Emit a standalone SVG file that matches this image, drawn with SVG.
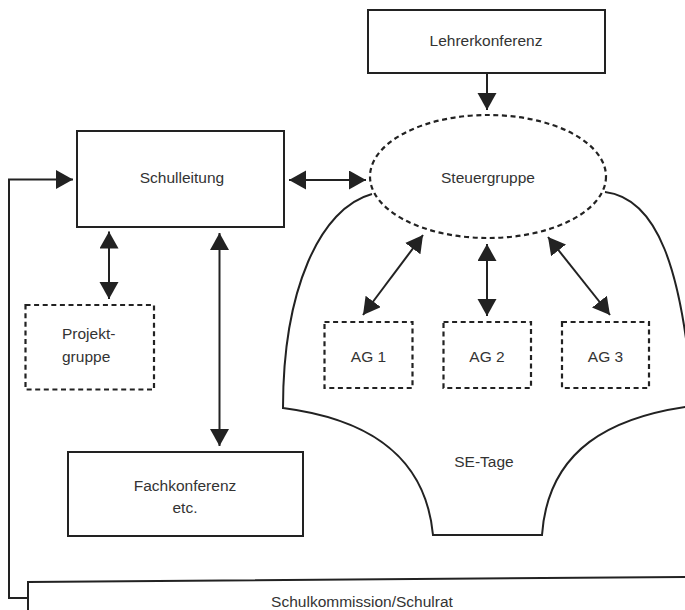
<svg xmlns="http://www.w3.org/2000/svg" width="685" height="610" viewBox="0 0 685 610">
<style>
  text { font-family: "Liberation Sans", Arial, sans-serif; font-size: 15.5px; fill: #333; text-anchor: middle; }
  .box { fill: none; stroke: #222; stroke-width: 2; }
  .dash { fill: none; stroke: #222; stroke-width: 2.2; stroke-dasharray: 5 3.6; }
  .line { fill: none; stroke: #222; stroke-width: 2; }
  .arr { fill: none; stroke: #222; stroke-width: 2; marker-end: url(#ah); }
  .darr { fill: none; stroke: #222; stroke-width: 2; marker-start: url(#ah); marker-end: url(#ah); }
</style>
<defs>
  <marker id="ah" markerUnits="userSpaceOnUse" markerWidth="18" markerHeight="20" refX="17" refY="9.5" orient="auto-start-reverse">
    <path d="M0,0 L17,9.5 L0,19 Z" fill="#222"/>
  </marker>
</defs>
<rect width="685" height="610" fill="#fff"/>

<g id="se-tage">
  <path class="line" d="M372,194 C320,208 283,290 283,408 C360,418 425,450 433,535 L542,535 C548,450 610,415 700,405"/>
  <path class="line" d="M605,192 C655,198 684,262 694,420"/>
  <text x="484" y="467">SE-Tage</text>
</g>

<g id="lehrerkonferenz">
  <rect class="box" x="368" y="10" width="237" height="63"/>
  <text x="486" y="46">Lehrerkonferenz</text>
</g>

<g id="steuergruppe">
  <ellipse class="dash" cx="488" cy="176.5" rx="118" ry="61.5" fill="#fff"/>
  <text x="488" y="183">Steuergruppe</text>
</g>

<g id="schulleitung">
  <rect class="box" x="77" y="131" width="207" height="96"/>
  <text x="182" y="183">Schulleitung</text>
</g>

<g id="projektgruppe">
  <rect class="dash" x="25.5" y="305" width="128.5" height="84.5"/>
  <text x="62" y="339" style="text-anchor:start">Projekt-</text>
  <text x="62" y="362" style="text-anchor:start">gruppe</text>
</g>

<g id="fachkonferenz">
  <rect class="box" x="68" y="452" width="235" height="84"/>
  <text x="185" y="491">Fachkonferenz</text>
  <text x="185" y="513">etc.</text>
</g>

<g id="ag1">
  <rect class="dash" x="324.5" y="322" width="88" height="66"/>
  <text x="368.5" y="362">AG 1</text>
</g>
<g id="ag2">
  <rect class="dash" x="443.5" y="322" width="87.5" height="66"/>
  <text x="487" y="362">AG 2</text>
</g>
<g id="ag3">
  <rect class="dash" x="562" y="322" width="87" height="66"/>
  <text x="605.5" y="362">AG 3</text>
</g>

<g id="schulkommission">
  <path class="box" d="M28,615 L28,582 L690,577"/>
  <text x="362" y="607">Schulkommission/Schulrat</text>
</g>

<g id="connectors">
  <line class="arr" x1="487" y1="73" x2="487" y2="110"/>
  <line class="darr" x1="289" y1="180" x2="366" y2="180"/>
  <polyline class="arr" points="28,598 9,598 9,179.5 73,179.5"/>
  <line class="darr" x1="109" y1="231.5" x2="109" y2="299"/>
  <line class="darr" x1="219.5" y1="233" x2="219.5" y2="446"/>
  <line class="darr" x1="423" y1="235" x2="363" y2="315"/>
  <line class="darr" x1="487" y1="244" x2="487" y2="316"/>
  <line class="darr" x1="548" y1="237" x2="610" y2="315"/>
</g>
</svg>
